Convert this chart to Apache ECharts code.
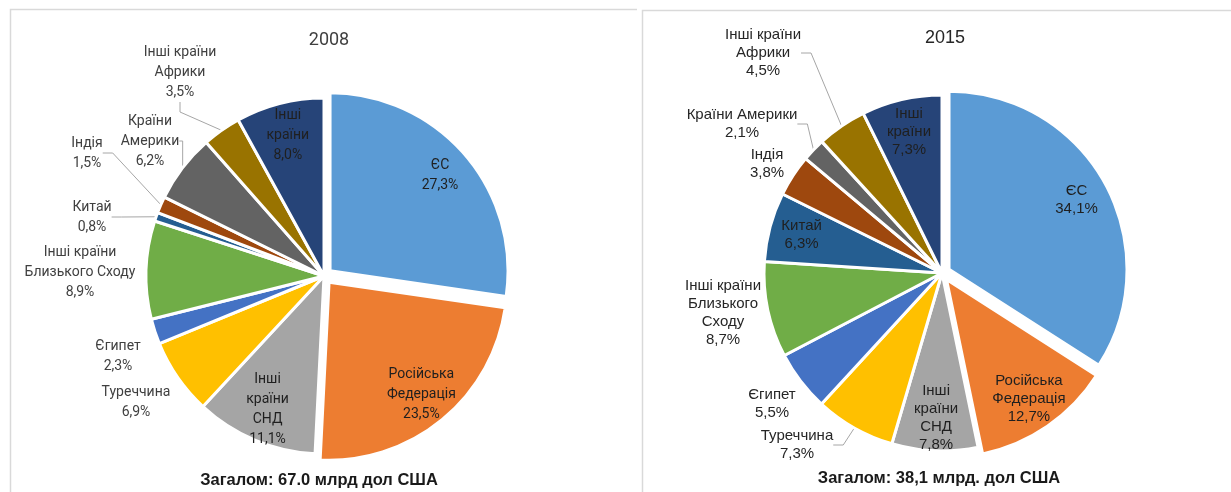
<!DOCTYPE html>
<html>
<head>
<meta charset="utf-8">
<script src="https://cdn.jsdelivr.net/npm/echarts@6/dist/echarts.min.js"></script>
<style>
  html, body { margin: 0; padding: 0; background: #fff; }
  #chart { width: 1231px; height: 492px; }
</style>
</head>
<body>
<div id="chart"></div>
<script>
// категорії (порядок секторів за годинниковою стрілкою від 12 години)
const categories = [
  "ЄС", "Російська Федерація", "Інші країни СНД", "Туреччина", "Єгипет",
  "Інші країни Близького Сходу", "Китай", "Індія", "Країни Америки",
  "Інші країни Африки", "Інші країни"
]
// підписи з переносами, як на малюнку
const labels2008 = [
  "ЄС", "Російська\nФедерація", "Інші\nкраїни\nСНД", "Туреччина", "Єгипет",
  "Інші країни\nБлизького Сходу", "Китай", "Індія", "Країни\nАмерики",
  "Інші країни\nАфрики", "Інші\nкраїни"
]
const labels2015 = [
  "ЄС", "Російська\nФедерація", "Інші\nкраїни\nСНД", "Туреччина", "Єгипет",
  "Інші країни\nБлизького\nСходу", "Китай", "Індія", "Країни Америки",
  "Інші країни\nАфрики", "Інші\nкраїни"
]
const values2008 = [27.3, 23.5, 11.1, 6.9, 2.3, 8.9, 0.8, 1.5, 6.2, 3.5, 8.0]
const values2015 = [34.1, 12.7, 7.8, 7.3, 5.5, 8.7, 6.3, 3.8, 2.1, 4.5, 7.3]
const titles = ["2008", "2015"]
const totals = ["Загалом: 67.0 млрд дол США", "Загалом: 38,1 млрд. дол США"]

const colors = [
  "#5B9BD5", "#ED7D31", "#A5A5A5", "#FFC000", "#4472C4", "#70AD47",
  "#255E91", "#9E480E", "#636363", "#997300", "#264478"
]

// розкладка підписів (окремо від даних)
const layout2008 = {
  center: [324, 276],
  font: "Roboto", fontSize: 14, lineHeight: 20, outColor: "#404040",
  inside: [0, 1, 2, 10],
  leader: [6, 7, 8, 9],
  pos: { 3: [136, 402], 4: [118, 356], 5: [80, 272], 6: [92, 217], 7: [87, 153], 8: [150, 141], 9: [180, 72] },
}
const layout2015 = {
  center: [942, 273],
  font: "Liberation Sans", fontSize: 15, lineHeight: 18, outColor: "#262626",
  inside: [0, 1, 2, 6, 10],
  leader: [3, 8, 9],
  pos: { 3: [797, 445], 4: [772, 404], 5: [723, 313], 7: [767, 164], 8: [742, 124], 9: [763, 53] },
}
const exploded = [0, 1]
const insideK = 1.58 // всередині: ~0.79 радіуса замість 0.5

const fmt = (v) => v.toFixed(1).replace(".", ",") + "%"

const buildData = (values, labels, lay) =>
  values.map((v, i) => ({
    name: categories[i],
    value: v,
    selected: exploded.includes(i),
    itemStyle: { color: colors[i] },
    label: {
      position: lay.inside.includes(i) ? "inside" : "outside",
      formatter: labels[i] + "\n" + fmt(v),
      color: lay.inside.includes(i) ? "#1f1f1f" : lay.outColor,
      align: "center",
    },
    labelLine: { show: lay.leader.includes(i) },
  }))

const pie = (values, labels, lay) => ({
  type: "pie",
  center: lay.center,
  radius: [0, 178],
  startAngle: 90,
  clockwise: true,
  selectedMode: "multiple",
  selectedOffset: 8,
  animation: false,
  avoidLabelOverlap: false,
  itemStyle: { borderColor: "#fff", borderWidth: 3 },
  label: { fontSize: lay.fontSize, lineHeight: lay.lineHeight, fontFamily: lay.font },
  labelLine: { length: 10, length2: 10, lineStyle: { color: "#a6a6a6", width: 1 } },
  labelLayout: (p) => {
    const i = p.dataIndex
    if (lay.inside.includes(i)) {
      const r = p.labelRect
      const lx = r.x + r.width / 2
      const ly = r.y + r.height / 2
      return { dx: (insideK - 1) * (lx - lay.center[0]), dy: (insideK - 1) * (ly - lay.center[1]) }
    }
    const q = lay.pos[i]
    return { x: q[0], y: q[1], align: "center", verticalAlign: "middle", hideOverlap: false }
  },
  emphasis: { disabled: true },
  data: buildData(values, labels, lay),
})

const chart = echarts.init(document.getElementById("chart"))
chart.setOption({
  backgroundColor: "#fff",
  title: [
    { text: titles[0], left: 324, top: 26, textAlign: "center",
      textStyle: { fontSize: 18, fontWeight: "normal", color: "#404040", fontFamily: "Roboto" } },
    { text: titles[1], left: 940, top: 24, textAlign: "center",
      textStyle: { fontSize: 18, fontWeight: "normal", color: "#262626", fontFamily: "Liberation Sans" } },
    { text: totals[0], left: 314, top: 467, textAlign: "center",
      textStyle: { fontSize: 16.5, fontWeight: "bold", color: "#1a1a1a", fontFamily: "Liberation Sans" } },
    { text: totals[1], left: 934, top: 465, textAlign: "center",
      textStyle: { fontSize: 16.5, fontWeight: "bold", color: "#1a1a1a", fontFamily: "Liberation Sans" } },
  ],
  graphic: [
    // рамки панелей
    { type: "polyline", shape: { points: [[10.5, 492], [10.5, 9.5], [637, 9.5]] },
      style: { stroke: "#d9d9d9", lineWidth: 1.5, fill: null } },
    { type: "polyline", shape: { points: [[642.5, 492], [642.5, 10.5], [1231, 10.5]] },
      style: { stroke: "#d9d9d9", lineWidth: 1.5, fill: null } },
  ],
  series: [
    pie(values2008, labels2008, layout2008),
    pie(values2015, labels2015, layout2015),
  ],
})
</script>
</body>
</html>
